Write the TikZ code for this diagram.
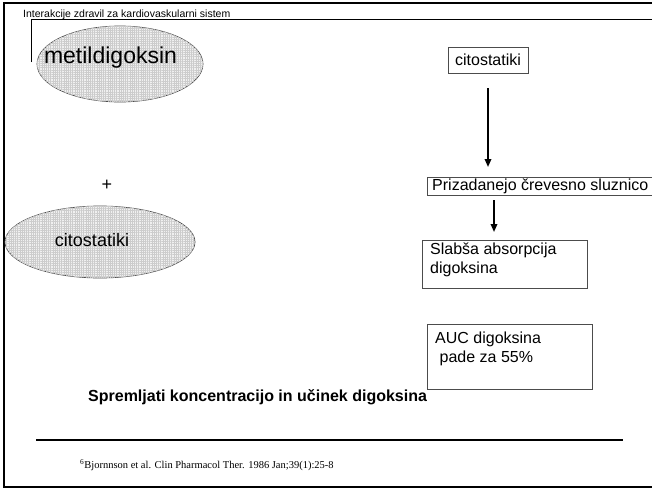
\documentclass[tikz,border=0pt]{standalone}
\usepackage{fontspec}
\setmainfont{Liberation Sans}
\newfontfamily\serifcit{Liberation Serif}
\usetikzlibrary{shapes.geometric,patterns.meta,arrows.meta}
\tikzset{
  ov/.style={ellipse, draw=gray!60!black, line width=0.7pt, fill=gray!12,
    postaction={pattern={Hatch[angle=0, distance=2.2pt, line width=0.4pt]}, pattern color=gray!40}, inner sep=0pt},
  boxline/.style={draw=gray!60!black, line width=0.8pt},
  txt/.style={inner sep=0pt, font=\fontsize{16}{19}\selectfont, align=left},
  arr/.style={line width=1.7pt, -{Triangle[length=8pt,width=6.5pt]}},
  frame/.style={line width=1.8pt, black},
}
\begin{document}
\begin{tikzpicture}[x=1pt,y=-1pt]
\useasboundingbox (0,0) rectangle (652,490);
\clip (0,0) rectangle (652,490);
\fill[white] (0,0) rectangle (652,490);
% outer frame
\draw[frame] (4,3) rectangle (680,487);
% title and its rule
\node[inner sep=0pt, anchor=base west, font=\fontsize{10.5}{12}\selectfont] (title) at (23,17) {Interakcije zdravil za kardiovaskularni sistem};
\coordinate (tl) at (31,62);
\coordinate (tc) at (31,19);
\coordinate (tr) at (680,19);
\draw[line width=0.9pt] (tl) -- (tc) -- (tr);
% left ellipses
\node[ov, minimum width=166pt, minimum height=76pt] (e1) at (120,64) {};
\node[inner sep=0pt, font=\fontsize{23}{26}\selectfont] (t1) at (110.5,58) {metildigoksin};
\node[inner sep=0pt, font=\fontsize{18}{20}\selectfont] (plus) at (107,185) {+};
\node[ov, minimum width=190pt, minimum height=72pt] (e2) at (100,242) {};
\node[inner sep=0pt, font=\fontsize{18}{20}\selectfont] (t2) at (92,240) {citostatiki};
% right chain
\node[boxline, txt, minimum width=80pt, minimum height=26pt, align=center] (cit) at (488,60) {citostatiki};
\draw[boxline] (427,177) rectangle (690,195);
\node[txt, anchor=west] (priz) at (432,186) {Prizadanejo črevesno sluznico};
\draw[boxline] (422,240) rectangle (587,288);
\node[txt, anchor=north west] (slab) at (430,243) {Slabša absorpcija\\digoksina};
\draw[boxline] (427,324) rectangle (592,389);
\node[txt, anchor=north west] (auc) at (435,332) {AUC digoksina\\\ pade za 55\%};
\coordinate (a1s) at (488,88);
\coordinate (a1e) at (488,167);
\coordinate (a2s) at (494,200);
\coordinate (a2e) at (494,232);
\draw[arr] (a1s) -- (a1e);
\draw[arr] (a2s) -- (a2e);
% bottom text
\node[inner sep=0pt, anchor=west, font=\bfseries\fontsize{16}{19}\selectfont] (sprem) at (88,397) {Spremljati koncentracijo in učinek digoksina};
\coordinate (hl) at (36,440);
\coordinate (hr) at (623,440);
\draw[line width=1.6pt] (hl) -- (hr);
\node[inner sep=0pt, anchor=west, font=\serifcit\fontsize{10.5}{12}\selectfont] (ref) at (80,465) {\textsuperscript{6}Bjornnson et al. Clin Pharmacol Ther. 1986 Jan;39(1):25-8};
\end{tikzpicture}
\end{document}
